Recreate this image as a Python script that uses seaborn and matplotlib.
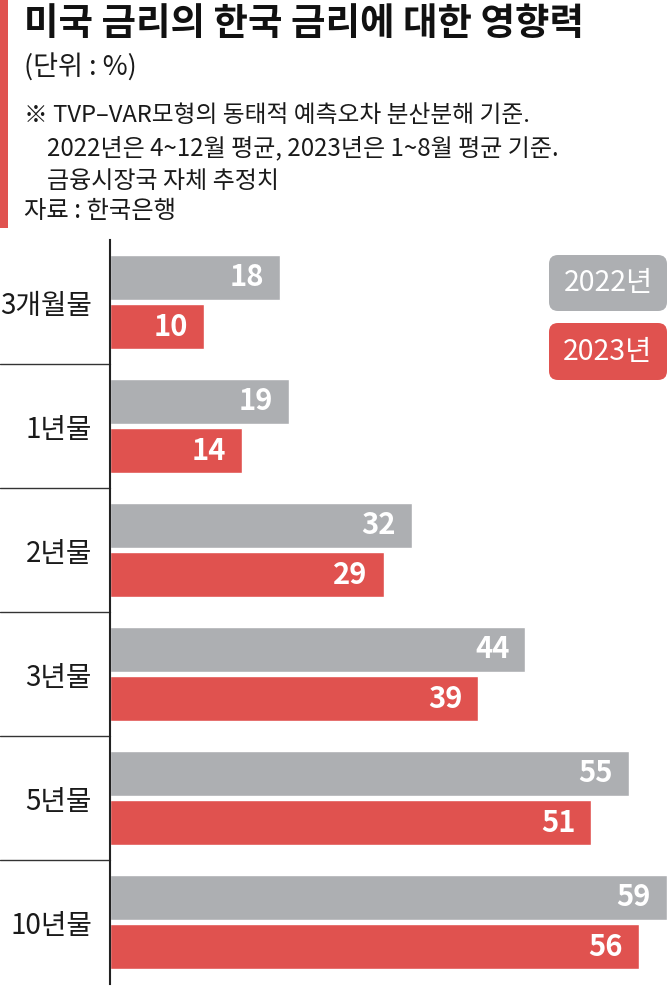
import matplotlib
matplotlib.use("Agg")
import matplotlib.pyplot as plt
import matplotlib.patches as mpatches
from matplotlib.transforms import IdentityTransform
import seaborn as sns
import pandas as pd

# ---- data ----
categories = ["3개월물", "1년물", "2년물", "3년물", "5년물", "10년물"]
years = ["2022년", "2023년"]
values_2022 = [18, 19, 32, 44, 55, 59]
values_2023 = [10, 14, 29, 39, 51, 56]

title = "미국 금리의 한국 금리에 대한 영향력"
unit = "(단위 : %)"
notes = ["※ TVP–VAR모형의 동태적 예측오차 분산분해 기준.",
         "2022년은 4~12월 평균, 2023년은 1~8월 평균 기준.",
         "금융시장국 자체 추정치"]
source = "자료 : 한국은행"

GRAY = "#ADAFB2"
RED = "#E0524F"

sns.set_style("white")
plt.rcParams["font.family"] = ["Noto Sans CJK KR", "DejaVu Sans"]
CJK = ["Noto Sans CJK KR", "DejaVu Sans"]

df = pd.DataFrame({
    "만기": categories * 2,
    "연도": [years[0]] * len(categories) + [years[1]] * len(categories),
    "값": values_2022 + values_2023,
})

W, H = 667, 986
fig = plt.figure(figsize=(W / 100, H / 100), dpi=100)
fig.patch.set_facecolor("white")

def fx(x):
    return x / W

def fy(y):
    return 1 - y / H

ax = fig.add_axes([fx(110), 2 / H, fx(557), (H - 240 - 2) / H])
sns.barplot(data=df, y="만기", x="값", hue="연도", orient="h",
            palette=[GRAY, RED], width=0.8, gap=0.1, ax=ax, legend=False,
            saturation=1)
ax.set_xlim(0, 59)
ax.set_ylim(5.5, -0.5)
ax.set_xlabel("")
ax.set_ylabel("")
ax.set_xticks([])
for s in ["top", "right", "bottom"]:
    ax.spines[s].set_visible(False)
ax.spines["left"].set_color("#222222")
ax.spines["left"].set_linewidth(1.5)
ax.tick_params(axis="y", length=0, pad=13, labelsize=20, labelcolor="#1a1a1a")
for lab in ax.get_yticklabels():
    lab.set_fontfamily(CJK)

# separators between categories on the label side
for k in range(len(categories) - 1):
    ax.plot([-110 / 557, 0], [k + 0.5, k + 0.5], transform=ax.get_yaxis_transform(),
            color="#333333", lw=1.0, clip_on=False)

# value labels
for ci, cont in enumerate(ax.containers):
    for p in cont:
        wv = p.get_width()
        yc = p.get_y() + p.get_height() / 2
        ax.annotate(f"{wv:.0f}", xy=(wv, yc), xytext=(-16, 0), textcoords="offset pixels",
                    ha="right", va="center", color="white", fontsize=21,
                    fontweight="bold" if ci == 1 else "semibold", family=CJK)

# legend boxes
tr = IdentityTransform()
for (label, col, y0, y1) in [(years[0], GRAY, 255, 311), (years[1], RED, 323, 380)]:
    box = mpatches.FancyBboxPatch((549, H - y1), 118, y1 - y0,
                                  boxstyle="round,pad=0,rounding_size=9",
                                  transform=tr, facecolor=col, edgecolor="none")
    fig.add_artist(box)
    fig.text(fx(608), fy((y0 + y1) / 2), label, ha="center", va="center",
             color="white", fontsize=20.5, family=CJK)

# left red bar
fig.add_artist(mpatches.Rectangle((0, fy(228)), fx(8), 228 / H, transform=fig.transFigure,
                                  facecolor=RED, edgecolor="none"))

# header texts
fig.text(fx(24), fy(23), title, ha="left", va="center", fontsize=27,
         fontweight="black", family=CJK, color="#111111")
fig.text(fx(24), fy(68), unit, ha="left", va="center", fontsize=19.5,
         family=CJK, color="#1a1a1a")
note_x = [24, 47, 47]
note_fs = [17.1, 17.3, 17.3]
for i, line in enumerate(notes):
    fig.text(fx(note_x[i]), fy(115 + 33 * i), line, ha="left", va="center",
             fontsize=note_fs[i], family=CJK, color="#1a1a1a")
fig.text(fx(24), fy(211), source, ha="left", va="center", fontsize=17.5,
         family=CJK, color="#1a1a1a")

fig.savefig("out.png", dpi=100, facecolor="white")
